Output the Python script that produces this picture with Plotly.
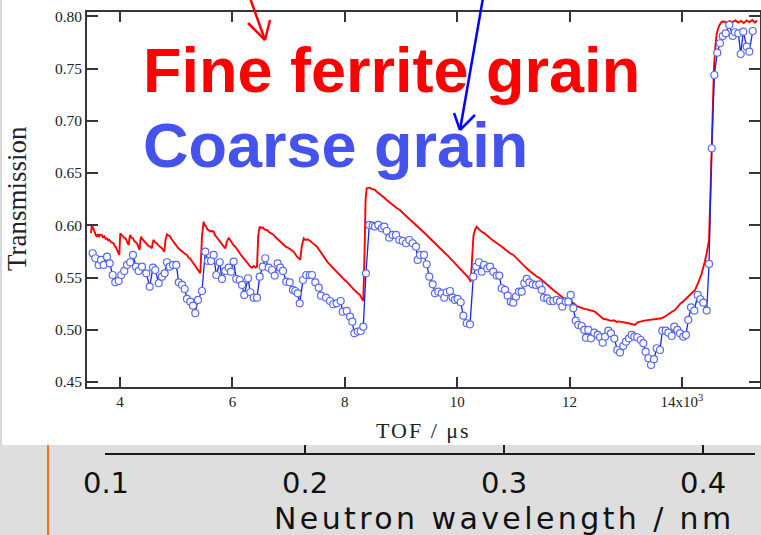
import plotly.graph_objects as go

W, H = 761, 535

# ---------------- data ----------------
# Fine ferrite grain: (TOF in microseconds, transmission)
RED = [
    (3484, .5925), (3495, .5985), (3510, .5990), (3530, .5950), (3550, .5935), (3570, .5905), (3591, .5890),
    (3610, .5915), (3630, .5895), (3650, .5910), (3680, .5905), (3700, .5880), (3720, .5895), (3745, .5870),
    (3769, .5875), (3790, .5855), (3810, .5862), (3840, .5840), (3865, .5835), (3888, .5825), (3910, .5800),
    (3930, .5790), (3950, .5760), (3970, .5740), (3988, .5716),
    (4005, .5923), (4030, .5905), (4055, .5895), (4075, .5880), (4094, .5875), (4115, .5860), (4135, .5830), (4155, .5811),
    (4170, .5880), (4183, .5907), (4205, .5880), (4230, .5875), (4255, .5850), (4280, .5840), (4302, .5828), (4325, .5795), (4350, .5764),
    (4362, .5850), (4374, .5891), (4395, .5870), (4420, .5855), (4450, .5830), (4480, .5811), (4510, .5800), (4540, .5795), (4569, .5780),
    (4585, .5840), (4600, .5859), (4625, .5835), (4650, .5830), (4680, .5810), (4717, .5795), (4745, .5780), (4765, .5765), (4788, .5747),
    (4810, .5860), (4836, .5914), (4860, .5905), (4895, .5891), (4920, .5865), (4950, .5840), (4984, .5811), (5010, .5800),
    (5040, .5780), (5073, .5764), (5100, .5750), (5130, .5740), (5160, .5725), (5192, .5716), (5220, .5690), (5250, .5680),
    (5280, .5655), (5311, .5636), (5340, .5610), (5370, .5590), (5400, .5560), (5429, .5540),
    (5460, .5900), (5489, .6034), (5510, .6000), (5535, .5985), (5555, .5960), (5578, .5955), (5600, .5940), (5630, .5945),
    (5667, .5939), (5690, .5905), (5715, .5890), (5740, .5870), (5760, .5855), (5785, .5843), (5810, .5820), (5840, .5800), (5874, .5780),
    (5900, .5840), (5934, .5881), (5960, .5860), (5990, .5830), (6020, .5810), (6052, .5795), (6080, .5770), (6110, .5750),
    (6140, .5725), (6170, .5705), (6201, .5684), (6230, .5660), (6260, .5640), (6290, .5615), (6319, .5604), (6350, .5595),
    (6380, .5610), (6410, .5595), (6438, .5604),
    (6460, .5900), (6486, .5987), (6510, .5975), (6540, .5980), (6570, .5960), (6616, .5955), (6650, .5935), (6690, .5925),
    (6735, .5907), (6770, .5885), (6800, .5870), (6840, .5850), (6875, .5830), (6913, .5811), (6950, .5795), (6990, .5785),
    (7020, .5770), (7055, .5760), (7091, .5747), (7120, .5720), (7150, .5700), (7180, .5685), (7208, .5668),
    (7235, .5800), (7269, .5875), (7300, .5860), (7340, .5865), (7386, .5850), (7420, .5830), (7460, .5815), (7505, .5795),
    (7550, .5760), (7594, .5716), (7640, .5680), (7690, .5650), (7740, .5620), (7796, .5588), (7850, .5560), (7900, .5525),
    (7950, .5505), (7990, .5480), (8034, .5460), (8080, .5430), (8130, .5400), (8180, .5375), (8230, .5350), (8271, .5333),
    (8300, .5300), (8329, .5275),
    (8350, .5700), (8370, .6250), (8390, .6354), (8420, .6355), (8449, .6360), (8490, .6345), (8537, .6338), (8580, .6315),
    (8620, .6300), (8660, .6280), (8700, .6265), (8745, .6242), (8790, .6225), (8840, .6200), (8890, .6180), (8935, .6160),
    (8982, .6146), (9030, .6120), (9080, .6095), (9125, .6075), (9170, .6055), (9219, .6034), (9265, .6010), (9310, .5985),
    (9360, .5960), (9410, .5935), (9457, .5907), (9505, .5880), (9550, .5855), (9600, .5830), (9645, .5805), (9694, .5780),
    (9740, .5755), (9790, .5730), (9840, .5705), (9885, .5680), (9931, .5652), (9980, .5625), (10025, .5600), (10075, .5575),
    (10120, .5550), (10169, .5524), (10200, .5500), (10240, .5460),
    (10260, .5650), (10290, .5900), (10320, .5960), (10347, .5987), (10390, .5960), (10430, .5940), (10480, .5925),
    (10525, .5907), (10570, .5885), (10620, .5860), (10665, .5845), (10715, .5830), (10762, .5811), (10810, .5790),
    (10860, .5765), (10905, .5745), (10950, .5730), (10999, .5716), (11045, .5690), (11095, .5665), (11140, .5640),
    (11190, .5615), (11236, .5588), (11285, .5565), (11330, .5545), (11380, .5525), (11425, .5505), (11473, .5493),
    (11520, .5470), (11570, .5445), (11615, .5420), (11660, .5400), (11710, .5381), (11760, .5360), (11810, .5335),
    (11860, .5315), (11910, .5300), (11977, .5285), (12030, .5265), (12080, .5250), (12130, .5225), (12170, .5215),
    (12216, .5206), (12260, .5200), (12310, .5195), (12360, .5185), (12410, .5180), (12452, .5173), (12500, .5150),
    (12550, .5125), (12600, .5105), (12645, .5100), (12689, .5094), (12740, .5085), (12790, .5090), (12840, .5075),
    (12880, .5080), (12927, .5077), (12970, .5070), (13020, .5065), (13070, .5060), (13120, .5050), (13164, .5046),
    (13210, .5070), (13260, .5080), (13310, .5085), (13355, .5090), (13401, .5094), (13450, .5095), (13500, .5100),
    (13550, .5105), (13600, .5108), (13639, .5110), (13690, .5125), (13740, .5140), (13790, .5160), (13830, .5175),
    (13875, .5189), (13920, .5220), (13970, .5250), (14020, .5270), (14070, .5295), (14112, .5317), (14170, .5350),
    (14232, .5381), (14290, .5450), (14351, .5540), (14400, .5640), (14440, .5732), (14481, .5859), (14505, .6200),
    (14529, .6721), (14550, .7150), (14570, .7518), (14595, .7720), (14618, .7837), (14660, .7910), (14707, .7948),
    (14750, .7950), (14800, .7940), (14850, .7955), (14900, .7945), (14950, .7960), (15000, .7940), (15050, .7955),
    (15100, .7935), (15150, .7960), (15200, .7945), (15250, .7965), (15300, .7940), (15335, .7960),
]

# Coarse grain: (TOF in microseconds, transmission)
BLUE = [
    (3514, .5732), (3561, .5684), (3621, .5620), (3662, .5668), (3710, .5620), (3769, .5699), (3817, .5636), (3870, .5524), (3916, .5454), (3977, .5467),
    (4023, .5524), (4076, .5563), (4125, .5620), (4183, .5646), (4231, .5716), (4285, .5604), (4333, .5563), (4391, .5604), (4468, .5540), (4528, .5412),
    (4587, .5594), (4628, .5572), (4689, .5445), (4747, .5508), (4795, .5540), (4836, .5646), (4884, .5604), (4943, .5620), (5002, .5620), (5045, .5454),
    (5103, .5429), (5151, .5390), (5192, .5295), (5251, .5269), (5299, .5230), (5340, .5158), (5388, .5285), (5459, .5371), (5518, .5747), (5566, .5658),
    (5619, .5658), (5667, .5716), (5714, .5524), (5774, .5646), (5815, .5486), (5874, .5563), (5934, .5594), (5975, .5556), (6023, .5652), (6069, .5486),
    (6130, .5476), (6171, .5429), (6212, .5333), (6278, .5493), (6319, .5359), (6379, .5307), (6438, .5307), (6486, .5508), (6539, .5604), (6585, .5684),
    (6646, .5594), (6705, .5572), (6753, .5518), (6806, .5636), (6852, .5594), (6900, .5563), (6959, .5460), (7020, .5454), (7078, .5381), (7119, .5371),
    (7162, .5349), (7198, .5253), (7256, .5476), (7315, .5524), (7376, .5524), (7416, .5524), (7475, .5454), (7536, .5403), (7577, .5326),
    (7666, .5307), (7737, .5275), (7795, .5244), (7856, .5253), (7927, .5275), (7963, .5173), (8034, .5180), (8093, .5125), (8134, .5077), (8169, .4966),
    (8230, .4982), (8283, .4988), (8329, .5029), (8377, .5540), (8436, .6003), (8496, .5996), (8537, .5987), (8596, .6003), (8657, .5971), (8703, .5987),
    (8746, .5945), (8792, .5881), (8852, .5907), (8911, .5907), (8970, .5859), (9030, .5850), (9089, .5828), (9148, .5859), (9208, .5828), (9267, .5795),
    (9297, .5668), (9338, .5716), (9409, .5716), (9457, .5627), (9504, .5508), (9564, .5435), (9605, .5349), (9664, .5364), (9724, .5349), (9771, .5307),
    (9813, .5359), (9872, .5371), (9920, .5307), (9961, .5285), (10009, .5295), (10062, .5263), (10109, .5135), (10169, .5062), (10228, .5052), (10287, .5508),
    (10335, .5604), (10388, .5646), (10436, .5556), (10477, .5620), (10536, .5588), (10584, .5604), (10642, .5556), (10703, .5518), (10749, .5518), (10792, .5397),
    (10851, .5381), (10899, .5326), (10952, .5269), (10998, .5259), (11046, .5317), (11100, .5364), (11148, .5364), (11194, .5445), (11237, .5486), (11283, .5454),
    (11344, .5435), (11402, .5429), (11461, .5435), (11504, .5381), (11545, .5307), (11603, .5301), (11651, .5275), (11710, .5275),
    (11771, .5285), (11829, .5269), (11870, .5221), (11931, .5269), (11977, .5269), (12020, .5333), (12066, .5206), (12109, .5087), (12155, .5046), (12215, .5036),
    (12262, .4998), (12292, .4924), (12333, .4998), (12381, .4918), (12440, .4972), (12500, .4950), (12541, .4928), (12589, .4876), (12630, .4934), (12689, .4991),
    (12737, .4966), (12796, .4915), (12849, .4806), (12897, .4781), (12956, .4845), (13004, .4886), (13057, .4918), (13105, .4950), (13151, .4934), (13205, .4928),
    (13265, .4902), (13312, .4871), (13354, .4790), (13401, .4727), (13449, .4663), (13502, .4718), (13550, .4823), (13609, .4806), (13650, .4991), (13710, .4991),
    (13756, .4972), (13817, .4940), (13863, .5029), (13917, .4998), (13965, .4966), (14023, .4934), (14071, .4950), (14112, .5094), (14160, .5215), (14219, .5183),
    (14280, .5333), (14326, .5292), (14379, .5259), (14440, .5183), (14481, .5630),
    (14529, .6737), (14575, .7438), (14628, .7652), (14676, .7742), (14725, .7811), (14778, .7837), (14842, .7917), (14902, .7811), (14943, .7847), (15002, .7837),
    (15045, .7639), (15091, .7853), (15152, .7709), (15198, .7661), (15258, .7859),
]

red_tof = [p[0] for p in RED]
red_T = [p[1] for p in RED]
blue_tof = [p[0] for p in BLUE]
blue_T = [p[1] for p in BLUE]

x_tickvals = [4000, 6000, 8000, 10000, 12000, 14000]
x_ticktext = ["4", "6", "8", "10", "12", "14x10<sup>3</sup>"]
y_tickvals = [0.45, 0.50, 0.55, 0.60, 0.65, 0.70, 0.75, 0.80]
wl_tickvals = [0.1, 0.2, 0.3, 0.4]


# ---------------- helpers for paper coordinates ----------------
def PX(x):
    return x / W


def PY(y):
    return 1 - y / H


fig = go.Figure()
fig.add_trace(go.Scatter(
    x=red_tof, y=red_T, mode="lines",
    line=dict(color="#ff0000", width=1.9),
    showlegend=False, hoverinfo="skip"))
fig.add_trace(go.Scatter(
    x=blue_tof, y=blue_T, mode="lines+markers",
    line=dict(color="#1428e6", width=1.3),
    marker=dict(symbol="circle", size=7, color="white",
                line=dict(color="#5a6af0", width=1.2)),
    showlegend=False, hoverinfo="skip"))
# carrier for the wavelength axis
fig.add_trace(go.Scatter(
    x=[0.2], y=[0.5], xaxis="x2", yaxis="y2", mode="markers",
    marker=dict(opacity=0), showlegend=False, hoverinfo="skip"))

serif = "Liberation Serif"
axcol = "#363636"

fig.update_layout(
    width=W, height=H,
    margin=dict(l=0, r=0, t=0, b=0, pad=0, autoexpand=False),
    paper_bgcolor="white",
    plot_bgcolor="rgba(0,0,0,0)",
    xaxis=dict(
        domain=[PX(87), PX(760)], range=[3413, 15388], anchor="y",
        tickmode="array", tickvals=x_tickvals, ticktext=x_ticktext,
        ticks="inside", ticklen=10, tickwidth=1.5, tickcolor=axcol,
        showline=True, linecolor=axcol, linewidth=1.7, mirror="ticks",
        showgrid=False, zeroline=False, automargin=False,
        tickfont=dict(family=serif, size=15, color="#222"),
    ),
    yaxis=dict(
        domain=[PY(387), PY(12)], range=[0.4452, 0.8041], anchor="x",
        tickmode="array", tickvals=y_tickvals, tickformat=".2f",
        ticks="inside", ticklen=11, tickwidth=1.5, tickcolor=axcol,
        showline=True, linecolor=axcol, linewidth=1.7, mirror="ticks",
        showgrid=False, zeroline=False, automargin=False,
        tickfont=dict(family=serif, size=15.5, color="#222"),
    ),
    xaxis2=dict(
        domain=[PX(105), PX(755)], range=[0.0995, 0.4261], anchor="y2",
        tickmode="array", tickvals=wl_tickvals, tickformat=".1f",
        ticks="inside", ticklen=8, tickwidth=2, tickcolor="#1a1a1a",
        showline=True, linecolor="#1a1a1a", linewidth=2,
        showgrid=False, zeroline=False, automargin=False,
        tickfont=dict(family="DejaVu Sans", size=29, color="#111"),
        ticklabelstandoff=3,
    ),
    yaxis2=dict(domain=[PY(453), PY(445)], range=[0, 1], anchor="x2",
                visible=False, automargin=False),
)

shapes = [
    # grey band of the slide below the chart
    dict(type="rect", xref="paper", yref="paper", x0=0, x1=1, y0=0, y1=PY(445),
         fillcolor="#dedede", line=dict(width=0), layer="below"),
    # orange slide rule
    dict(type="line", xref="paper", yref="paper", x0=PX(48), x1=PX(48), y0=0, y1=PY(445),
         line=dict(color="#f07020", width=2)),
    # faint left edge
    dict(type="line", xref="paper", yref="paper", x0=PX(1), x1=PX(1), y0=PY(445), y1=1,
         line=dict(color="#d8d8d8", width=2)),
    # red arrow
    dict(type="line", xref="paper", yref="paper", x0=PX(250), y0=PY(-2), x1=PX(265), y1=PY(40),
         line=dict(color="#ff0000", width=2.5)),
    dict(type="line", xref="paper", yref="paper", x0=PX(248), y0=PY(23), x1=PX(265), y1=PY(40),
         line=dict(color="#ff0000", width=2.5)),
    dict(type="line", xref="paper", yref="paper", x0=PX(270), y0=PY(20), x1=PX(265), y1=PY(40),
         line=dict(color="#ff0000", width=2.5)),
    # blue arrow
    dict(type="line", xref="paper", yref="paper", x0=PX(483), y0=PY(-2), x1=PX(460), y1=PY(130),
         line=dict(color="#0000ff", width=2.5)),
    dict(type="line", xref="paper", yref="paper", x0=PX(454), y0=PY(113), x1=PX(460), y1=PY(130),
         line=dict(color="#0000ff", width=2.5)),
    dict(type="line", xref="paper", yref="paper", x0=PX(475), y0=PY(115), x1=PX(460), y1=PY(130),
         line=dict(color="#0000ff", width=2.5)),
]
fig.update_layout(shapes=shapes)

annotations = [
    dict(text="Fine ferrite grain", x=PX(141), y=PY(70), xanchor="left", yanchor="middle",
         font=dict(family="Liberation Sans", size=63, color="#ff0000", weight="bold")),
    dict(text="Coarse grain", x=PX(141), y=PY(145), xanchor="left", yanchor="middle",
         font=dict(family="Liberation Sans", size=63, color="#4452ee", weight="bold")),
    dict(text="Transmission", x=PX(17), y=PY(199), textangle=-90,
         xanchor="center", yanchor="middle",
         font=dict(family=serif, size=27, color="#222")),
    dict(text='<span style="letter-spacing:2px">TOF / μs</span>', x=PX(423), y=PY(430),
         xanchor="center", yanchor="middle",
         font=dict(family=serif, size=22, color="#222")),
    dict(text='<span style="letter-spacing:3.4px">Neutron wavelength / nm</span>',
         x=PX(504), y=PY(518), xanchor="center", yanchor="middle",
         font=dict(family="DejaVu Sans", size=30, color="#111")),
]
for a in annotations:
    a.update(xref="paper", yref="paper", showarrow=False)
fig.update_layout(annotations=annotations)

fig.write_html("out.html")
